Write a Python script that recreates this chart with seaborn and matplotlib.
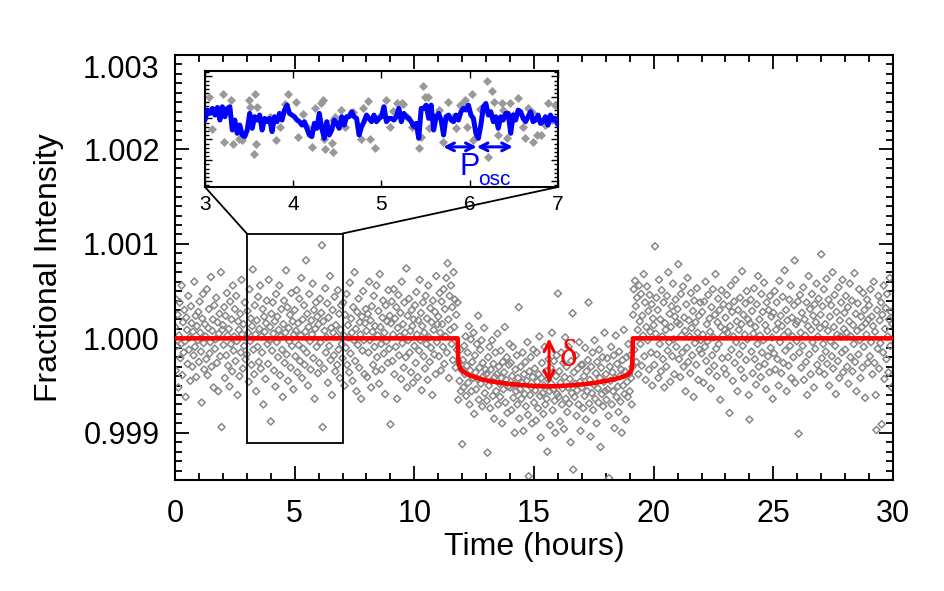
import numpy as np
import pandas as pd
import matplotlib
matplotlib.use("Agg")
import matplotlib.pyplot as plt
import seaborn as sns
from matplotlib.patches import Rectangle, ConnectionPatch
from matplotlib.ticker import MultipleLocator, FixedLocator, FormatStrFormatter, NullFormatter

# ---------------- data (ppm relative to 1.0) ----------------
# one row per hour of observations (0..29 h), evenly spaced within the hour
flux_by_hour = [
    [120, -340, 410, -80, 250, -520, 30, 380, -210, -60, 560, -390, 170, -150, 300, -30, -620, 220, 90, -270, 450, -120, 10, -450, 340, 160, -300, 70, -180, 600, -90, 240, -410, 130, -20, 280],
    [-250, 390, 60, -140, -680, 210, 470, -50, -330, 150, 20, -220, 520, -390, 110, 310, -160, -40, 650, -300, 80, 200, -520, 350, -110, -10, 430, -260, 170, -560, 50, 260, -190, 700, -940, 90],
    [140, -70, 330, -420, 240, -180, 480, 30, -290, 100, -510, 390, -60, 200, -350, 560, -130, 20, 310, -240, 450, -30, -600, 180, 90, -400, 260, -150, 620, 40, -320, 150, -80, 380, -220, 10],
    [-170, 290, 60, -460, 520, -30, 210, -280, 130, 730, -120, -380, 350, 40, -560, 190, -90, 440, -250, 100, 560, -320, 20, -150, 310, -700, 230, 70, -430, 160, 400, -60, -270, 620, -20, 120],
    [-880, 260, -130, 380, 50, -340, 180, -510, 470, -40, 230, -200, 90, 560, -390, 20, 310, -120, -620, 150, 400, -260, 60, 720, -170, 330, -450, 110, -30, 250, -310, 480, -80, 180, -540, 40],
    [300, -190, 80, 510, -360, 160, -70, 420, -240, 30, 640, -420, 200, -110, 350, -280, 70, 826, -150, 260, -500, 120, 470, -30, -330, 190, 40, 580, -210, 300, -640, 100, 380, -90, 230, -370],
    [150, -260, 420, -40, 270, 985, -940, 180, -320, 80, 530, -150, 10, 370, -470, 220, -80, 660, -230, 110, -600, 300, 60, -180, 440, -350, 140, 20, -280, 510, -120, 260, -420, 90, 350, -60],
    [-210, 380, 30, -500, 250, -100, 470, -280, 140, 10, -360, 590, -160, 210, 60, -450, 330, -20, 700, -240, 100, -560, 280, -70, 420, -310, 170, 40, -640, 230, -130, 500, -20, -380, 160, 310],
    [80, -410, 260, -150, 600, -20, 190, -520, 340, 70, -280, 450, -90, 130, -350, 560, -200, 30, 290, -480, 680, 120, -60, -330, 220, 400, -160, 60, -590, 350, -30, 180, -260, 510, -110, 240],
    [-910, 160, 390, -240, 40, 520, -380, 210, -90, 330, -640, 110, 460, -180, 20, 270, -430, 600, -50, 150, -310, 380, 60, -200, 740, -520, 240, -20, 420, -150, 80, -360, 300, 130, -470, 200],
    [-80, 350, -260, 490, 40, -410, 190, -130, 620, -20, 270, -550, 130, 380, -190, 60, -320, 450, -60, 210, -440, 560, 10, -250, 320, -100, 170, -600, 400, 90, -170, 280, -380, 660, -40, 150],
    [230, -190, 480, 60, -340, 390, 150, -90, 520, -270, 310, 20, 640, -150, 795, 200, -420, 450, 90, 560, -60, 330, -230, 700, 120, 410, -310, 250, -120, 380, -650, -250, -450, -120, -560, -330],
    [-1120, -230, -520, -80, -380, 20, -610, -290, -150, -470, 130, -700, -340, -10, -560, -250, -420, 60, -800, -180, -360, -540, -60, -430, 240, -650, -310, -120, -480, -20, -720, -260, -400, 110, -580, -330],
    [-380, -660, -1210, -200, -500, -90, -740, -330, -450, -20, -610, -270, -850, -410, -150, -560, -380, 50, -700, -300, -480, -620, -130, -420, -900, -250, -540, -360, 120, -680, -440, -200, -790, -510, -280, -60],
    [-520, -260, -760, -400, -90, -630, -480, -1000, -330, -560, -180, -700, -420, 330, -850, -540, -300, -640, -470, -150, -980, -380, -590, -250, -720, -450, -40, -810, -1460, -350, -600, -200, -520, -900, -410, -120],
    [-680, -320, -550, -870, -150, -460, -740, -380, 20, -610, -1050, -420, -260, -580, -800, -500, -90, -700, -350, -640, -1200, -430, -220, -560, -920, -310, -480, 60, -760, -540, -240, -660, -1000, -400, -180, -590],
    [475, -620, -350, -880, -470, -150, -700, -530, -260, -960, -410, 10, -640, -300, -780, -520, -90, -690, -430, -1100, -240, -580, 265, -1390, -360, -620, -480, -180, -820, -550, -320, -700, -40, -460, -980, -280],
    [-520, -280, -740, -400, -610, -100, -860, -350, -560, -230, 380, -690, -440, -1040, -300, -580, -150, -760, -490, -20, -640, -370, -900, -250, -530, -680, -120, -420, -1150, -310, -590, -200, -720, -460, 60, -560],
    [-380, -650, -210, -540, -820, -1480, -300, -450, -90, -700, -360, -560, -180, -950, -420, 30, -620, -270, -510, -780, -140, -400, -670, -330, -1000, -230, -500, 90, -590, -350, -860, -200, -460, -620, -60, -380],
    [-560, -180, -420, -700, -300, 250, 520, -120, 610, 340, -250, 430, 90, -380, 560, 180, -60, 470, -290, 240, 30, 680, -190, 380, -440, 120, 550, -20, 290, -330, 460, 70, -150, 360, -500, 210],
    [140, -280, 975, 50, 430, -170, 300, -420, 620, -60, 200, -350, 510, 20, -220, 380, -520, 160, 90, -300, 450, -130, 700, -40, 260, -460, 120, 340, -190, 580, -10, -380, 230, 410, -90, 170],
    [310, 785, -220, 150, -410, 470, 30, -150, 550, -300, 220, 80, -560, 360, -100, 640, -250, 190, 20, -370, 480, 110, -180, 290, -620, 400, -50, 170, -280, 530, 60, -440, 240, -120, 380, -20],
    [-160, 280, 40, -470, 390, -90, 600, -240, 150, -30, 460, -350, 210, 70, -530, 330, -180, 520, 10, -290, 250, 680, -110, -400, 170, 420, -60, 300, -650, 120, 510, -210, 30, 360, -320, 90],
    [220, -380, 460, 60, -200, 340, -790, 130, 560, -120, 280, -450, 20, 390, -260, 620, -40, 180, -560, 300, 90, -170, 430, -330, 150, 710, -80, 250, -420, 40, 370, -230, 500, -10, 200, -600],
    [-860, 160, 410, -140, 290, -370, 50, 530, -220, 120, -490, 360, -60, 660, -300, 200, 30, -410, 470, -150, 280, -20, 590, -270, 140, -540, 380, 80, -190, 300, -360, 450, -100, 230, 10, -640],
    [270, -160, 500, -330, 90, 380, -220, 160, -500, 610, -40, 240, -370, 130, 440, -260, 30, 720, -130, 300, -560, 190, 70, -290, 410, -80, 560, -420, 220, 20, -200, 350, 825, -470, 150, -30],
    [180, 390, -1010, -150, 460, 60, -310, 270, -80, 540, -440, 200, 30, -250, 380, -600, 130, 660, -170, 310, -380, 90, 470, -40, 240, -520, 360, -110, 170, 580, -280, 20, 420, -350, 110, 250],
    [890, -210, 340, -60, 520, -380, 150, -140, 630, -270, 80, 410, -500, 230, -30, 350, -190, 700, -320, 120, 460, -80, -590, 280, 40, -240, 540, -420, 190, 20, 380, -150, 620, -360, 100, 270],
    [-120, 450, 60, -300, 330, -480, 180, 580, -200, 20, 400, -350, 140, -60, 690, -250, 260, -560, 80, 370, -170, 520, -20, -420, 230, 120, -310, 480, -90, 300, -630, 160, 40, 410, -260, 200],
    [350, -190, 520, -40, 230, -380, 130, 600, -260, 70, -600, -970, 300, -110, 450, -320, 190, -50, 380, -910, 250, -150, 560, -430, 100, 320, -220, 470, 20, -360, 200, 640, -80, 280, -520, 150],
]

# transit model (hours, ppm)
model_time = [0, 11.81, 11.82, 11.85, 11.92, 12.0, 12.15, 12.35, 12.7, 13.0, 13.5, 14.0, 14.5, 15.0,
              15.5, 16.0, 16.5, 17.0, 17.5, 18.0, 18.4, 18.75, 18.95, 19.05, 19.1, 19.12, 19.13, 30]
model_ppm = [0, 0, -150, -260, -320, -345, -370, -395, -425, -445, -467, -483, -495, -504,
             -509, -506, -498, -488, -473, -450, -430, -405, -378, -350, -300, -150, 0, 0]

# inset: binned points (hours, ppm) and oscillation curve (ppm)
inset_time = [3.049, 3.076, 3.200, 3.219, 3.291, 3.321, 3.389, 3.415, 3.499, 3.510, 3.567, 3.578, 3.555,
              3.593, 3.737, 3.805, 3.850, 3.907, 3.944, 4.031, 4.050, 4.107, 4.152, 4.209, 4.246, 4.311,
              4.333, 4.348, 4.360, 4.435, 4.447, 4.454, 4.473, 4.537, 4.586, 4.662, 4.673, 4.764, 4.794,
              4.851, 4.870, 4.926, 4.975, 5.051, 5.096, 5.127, 5.172, 5.229, 5.247, 5.293, 5.342, 5.429,
              5.444, 5.474, 5.493, 5.531, 5.542, 5.655, 5.701, 5.757, 5.814, 5.844, 5.890, 5.927, 5.946,
              5.965, 6.022, 6.041, 6.071, 6.116, 6.199, 6.211, 6.248, 6.275, 6.324, 6.362, 6.381, 6.418,
              6.456, 6.494, 6.551, 6.607, 6.626, 6.664, 6.702, 6.721, 6.758, 6.804, 6.853, 6.891, 6.928, 6.966]
inset_ppm = [411, -209, 462, -443, 348, -494, -399, -411, 348, 222, 456, -494, -677,
             222, 32, -411, -158, 266, 462, 317, -361, 82, -158, -538, 190, 285,
             348, -399, -589, -475, -633, -32, 32, 158, -158, 108, 127, -399, 190,
             335, -399, -570, 32, 348, -171, 146, 298, 298, 272, 32, -158, -570,
             -361, 614, 411, 411, -190, 158, -443, 317, 32, -190, 253, 285, 348,
             -158, 462, -411, -361, 171, 715, -728, 525, 317, -317, 285, 158, -380,
             298, 63, 380, -171, -380, 190, 127, -443, -317, -317, -127, 298, -32, 253]
osc_ppm = [-32, 158, 95, 190, 63, 209, -32, 222, 32, 190, 222, -222, -32, -285, -127, -317, -348, -222,
           95, -190, 32, -32, 63, -222, 0, -63, 0, -253, 32, -63, 95, -32, 158, 253, 95, 63, 32, -32,
           -63, -127, -63, -190, -317, -348, -95, -190, 95, -190, -380, -63, -317, -222, -32, -95, -190,
           32, -127, 32, 32, 127, 32, 0, -317, -158, -63, 63, 0, -63, 63, -63, 0, 32, 222, -63, 0, 0,
           -32, 32, 190, -63, 95, 32, 0, -63, -158, -95, -380, 190, 190, 253, 0, 253, -222, 32, 95, -32,
           -317, 32, 63, -32, -63, 63, -32, 127, 190, 158, 253, 63, 0, -285, -380, -127, 222, 285, 63,
           127, -63, 32, -190, 32, -32, 95, 95, -285, 63, -32, 158, 127, 0, -63, 32, 127, -63, -32, 63,
           -95, -63, 32, -127, 63, -32, 0, -127]
inset_range = [3, 7]
inset_ylim_ppm = [-1310, 905]
box_ppm = [-1110, 1110]

delta_time = 15.63
delta_ppm = [0, -480]
posc_time = [5.70, 6.08, 6.49]
posc_ppm = -544

x_ticks = [0, 5, 10, 15, 20, 25, 30]
y_ticks = [0.999, 1.000, 1.001, 1.002, 1.003]
inset_ticks = [3, 4, 5, 6, 7]

# ---------------- build tables ----------------
t_list, f_list = [], []
for h, row in enumerate(flux_by_hour):
    n = len(row)
    for i, v in enumerate(row):
        t_list.append(h + i / n)
        f_list.append(1.0 + v * 1e-6)
df = pd.DataFrame({"time": t_list, "flux": f_list})
model = pd.DataFrame({"time": model_time, "flux": 1.0 + np.array(model_ppm) * 1e-6})
ins = pd.DataFrame({"time": inset_time, "ppm": inset_ppm})
osc = pd.DataFrame({"time": np.linspace(inset_range[0], inset_range[1], len(osc_ppm)), "ppm": osc_ppm})

# ---------------- style ----------------
sns.set_style("ticks")
plt.rcParams["font.family"] = ["Liberation Sans", "DejaVu Sans"]
plt.rcParams["axes.linewidth"] = 1.5
for key in ["text.color", "axes.labelcolor", "xtick.color", "ytick.color", "axes.edgecolor"]:
    plt.rcParams[key] = "black"

GRAY = "#888888"
fig = plt.figure(figsize=(9.45, 5.91), dpi=100)
ax = fig.add_axes([0.1852, 0.1878, 0.7598, 0.7191])

sns.scatterplot(data=df, x="time", y="flux", ax=ax, marker="D", s=13, color=GRAY,
                facecolor="none", edgecolor=GRAY, linewidth=1.1, zorder=2)
sns.lineplot(data=model, x="time", y="flux", ax=ax, color="#ff0000", lw=3.3,
             estimator=None, sort=False, zorder=4)

ax.set_xlim(0, 30)
ax.set_ylim(0.9985, 1.003)
ax.xaxis.set_major_locator(FixedLocator(x_ticks))
ax.xaxis.set_minor_locator(MultipleLocator(1))
ax.yaxis.set_major_locator(FixedLocator(y_ticks))
ax.yaxis.set_minor_locator(MultipleLocator(0.0001))
ax.yaxis.set_major_formatter(FormatStrFormatter("%.3f"))
ax.tick_params(which="both", direction="in", top=True, right=True, width=1.3, colors="black")
ax.tick_params(which="major", length=10, labelsize=22)
ax.tick_params(which="minor", length=5)
ax.tick_params(axis="x", which="major", pad=14)
ax.tick_params(axis="y", which="major", pad=11)
ax.set_xlabel("Time (hours)", fontsize=23, labelpad=2)
ax.set_ylabel("Fractional Intensity", fontsize=23, labelpad=14)

# zoom box
ax.add_patch(Rectangle((inset_range[0], 1 + box_ppm[0] * 1e-6), inset_range[1] - inset_range[0],
                       (box_ppm[1] - box_ppm[0]) * 1e-6, fill=False, edgecolor="black", lw=1.3, zorder=5))

# delta arrow
ax.annotate("", xy=(delta_time, 1 + delta_ppm[1] * 1e-6), xytext=(delta_time, 1 + delta_ppm[0] * 1e-6),
            arrowprops=dict(arrowstyle="<->", color="#ff0000", lw=2.2, mutation_scale=18,
                            shrinkA=0, shrinkB=0), zorder=6)
ax.text(16.45, 1 - 190e-6, "δ", color="#ff0000", fontsize=27,
        family=["Liberation Serif", "DejaVu Serif"], ha="center", va="center", zorder=6)

# ---------------- inset ----------------
axi = fig.add_axes([0.2169, 0.6836, 0.3735, 0.1963])
axi.set_facecolor("white")
sns.scatterplot(data=ins, x="time", y="ppm", ax=axi, marker="D", s=16, color="#999999",
                edgecolor="#999999", linewidth=0.6, zorder=2)
sns.lineplot(data=osc, x="time", y="ppm", ax=axi, color="#0000ff", lw=3.6,
             estimator=None, sort=False, zorder=3)
axi.set_xlim(*inset_range)
axi.set_ylim(*inset_ylim_ppm)
axi.xaxis.set_major_locator(FixedLocator(inset_ticks))
axi.yaxis.set_major_locator(MultipleLocator(400))
axi.yaxis.set_minor_locator(MultipleLocator(80))
axi.yaxis.set_major_formatter(NullFormatter())
axi.tick_params(which="both", direction="in", top=True, right=True, width=1.0, colors="black")
axi.tick_params(which="major", length=5, labelsize=15, pad=6)
axi.tick_params(which="minor", length=3)
axi.set_xlabel("")
axi.set_ylabel("")
for s in axi.spines.values():
    s.set_linewidth(1.5)

axi.annotate("", xy=(posc_time[0], posc_ppm), xytext=(posc_time[1], posc_ppm),
             arrowprops=dict(arrowstyle="<->", color="#0000ff", lw=2.2, mutation_scale=14,
                             shrinkA=0, shrinkB=0), zorder=5)
axi.annotate("", xy=(posc_time[1], posc_ppm), xytext=(posc_time[2], posc_ppm),
             arrowprops=dict(arrowstyle="<->", color="#0000ff", lw=2.2, mutation_scale=14,
                             shrinkA=0, shrinkB=0), zorder=5)
axi.text(6.0, -930, "P", color="#0000ff", fontsize=22, ha="center", va="center", zorder=5)
axi.text(6.28, -1170, "osc", color="#0000ff", fontsize=15, ha="center", va="center", zorder=5)

# connector lines from box to inset
for xa, xb in [(inset_range[0], 0), (inset_range[1], 1)]:
    con = ConnectionPatch(xyA=(xa, 1 + box_ppm[1] * 1e-6), coordsA=ax.transData,
                          xyB=(xb, 0), coordsB=axi.transAxes, color="black", lw=1.3)
    fig.add_artist(con)

# top tick label sits just below the frame, as in the original
ax.yaxis.get_major_ticks()[-1].label1.set_verticalalignment("top")

fig.savefig("out.png", dpi=100)
